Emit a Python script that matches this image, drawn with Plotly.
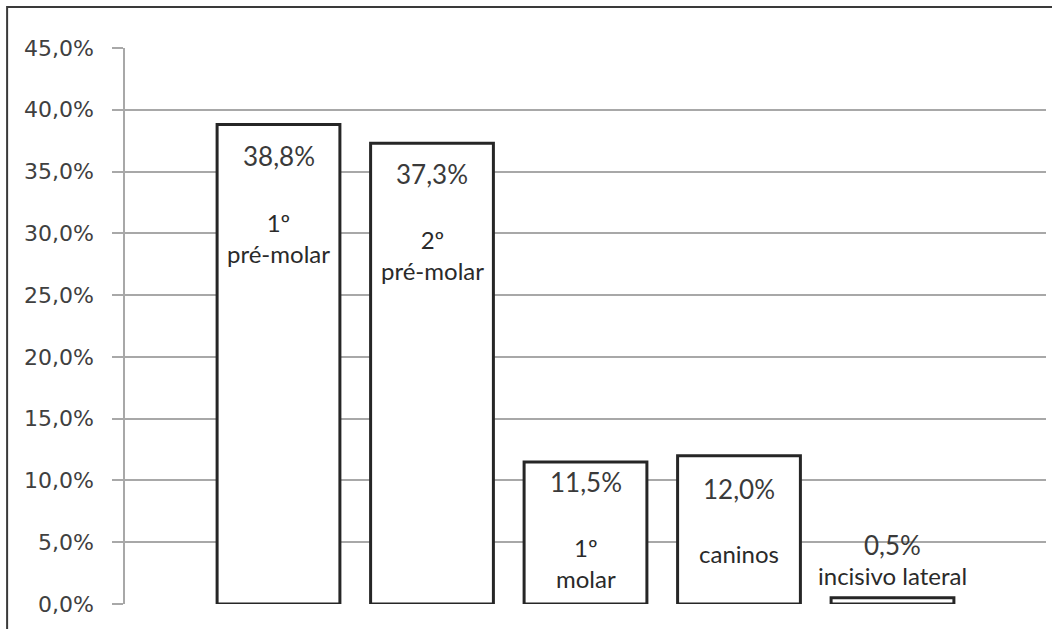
import plotly.graph_objects as go

positions = [1, 2, 3, 4, 5]
values = [38.8, 37.3, 11.5, 12.0, 0.5]
names = ["1º<br>pré-molar", "2º<br>pré-molar", "1º<br>molar", "caninos", "incisivo lateral"]
# pixel offsets (downwards from bar top) for value text and name text
val_shift = [-31, -31, -20, -33, 53]
name_shift = [-113, -112, -101, -98, 22]

fig = go.Figure()
fig.add_trace(go.Bar(
    x=positions, y=values, width=0.8,
    marker=dict(color="white", line=dict(color="#262626", width=3)),
    showlegend=False, hoverinfo="skip",
))

for x, v, n, vs, ns in zip(positions, values, names, val_shift, name_shift):
    fig.add_annotation(x=x, y=v, yshift=vs, text=f"{v:.1f}%".replace(".", ","),
                       showarrow=False, font=dict(family="Lato", size=26, color="#3a3a3a"),
                       yanchor="middle")
    fig.add_annotation(x=x, y=v, yshift=ns, text=n,
                       showarrow=False, font=dict(family="Lato", size=24, color="#2a2a2a"),
                       yanchor="middle")

# outer frame (top and left visible)
fig.add_shape(type="rect", xref="paper", yref="paper",
              x0=-0.128, x1=1.2, y0=-0.2, y1=1.0737,
              line=dict(color="#3a3a3a", width=2), fillcolor="rgba(0,0,0,0)", layer="above")

fig.update_layout(
    width=1052, height=629,
    margin=dict(l=125, r=6, t=48, b=25),
    paper_bgcolor="white", plot_bgcolor="white",
    separators=",.",
    xaxis=dict(range=[0, 6], showticklabels=False, showgrid=False, zeroline=False,
               showline=False, ticks=""),
    yaxis=dict(range=[0, 45], dtick=5, tickformat=".1f", ticksuffix="%",
               showgrid=True, gridcolor="#a8a8a8", gridwidth=1.5,
               showline=True, linecolor="#a8a8a8", linewidth=1.5,
               ticks="outside", ticklen=11, tickcolor="#a8a8a8", tickwidth=1.5,
               ticklabelstandoff=14,
               zeroline=False,
               tickfont=dict(family="DejaVu Sans", size=22, color="#404040")),
)

fig.write_html("out.html")
